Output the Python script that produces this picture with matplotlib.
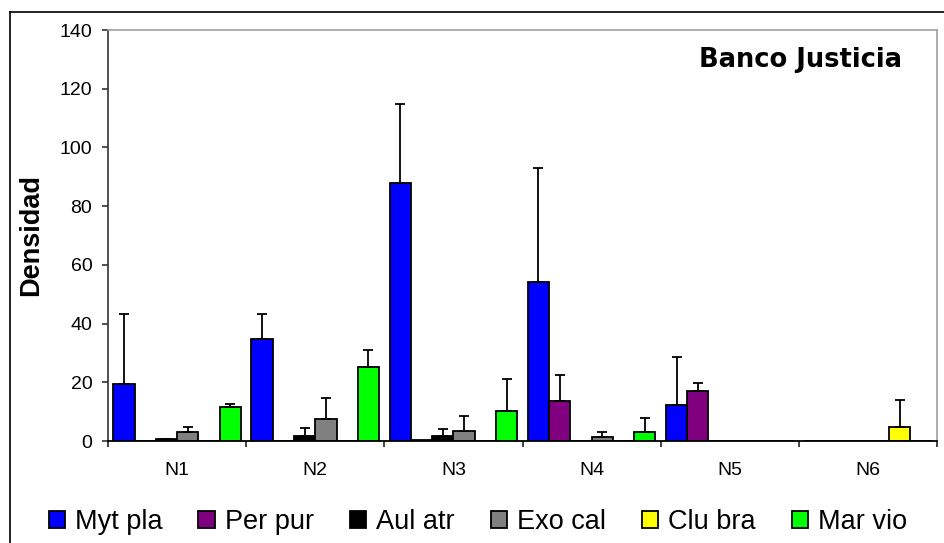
import matplotlib
matplotlib.use("Agg")
import matplotlib.pyplot as plt
import numpy as np
from matplotlib.lines import Line2D

plt.rcParams['font.family'] = ['Liberation Sans', 'DejaVu Sans']

categories = ["N1", "N2", "N3", "N4", "N5", "N6"]
series = ["Myt pla", "Per pur", "Aul atr", "Exo cal", "Clu bra", "Mar vio"]
colors = ["#0000FF", "#800080", "#000000", "#808080", "#FFFF00", "#00FF00"]

myt_pla = [19.4, 34.6, 87.8, 54.0, 12.2, 0.0]
per_pur = [0.0, 0.0, 0.3, 13.5, 17.1, 0.0]
aul_atr = [0.6, 1.8, 1.7, 0.0, 0.0, 0.0]
exo_cal = [3.2, 7.6, 3.5, 1.3, 0.0, 0.0]
clu_bra = [0.0, 0.0, 0.0, 0.0, 0.0, 4.9]
mar_vio = [11.6, 25.3, 10.3, 3.2, 0.0, 0.0]

myt_pla_err = [24.0, 8.6, 27.0, 39.0, 16.3, 0.0]
per_pur_err = [0.0, 0.0, 0.0, 9.0, 2.7, 0.0]
aul_atr_err = [0.2, 2.6, 2.3, 0.0, 0.0, 0.0]
exo_cal_err = [1.7, 7.2, 5.0, 1.9, 0.0, 0.0]
clu_bra_err = [0.0, 0.0, 0.0, 0.0, 0.0, 9.1]
mar_vio_err = [1.1, 5.8, 10.8, 4.7, 0.0, 0.0]

values = [myt_pla, per_pur, aul_atr, exo_cal, clu_bra, mar_vio]
errors = [myt_pla_err, per_pur_err, aul_atr_err, exo_cal_err, clu_bra_err, mar_vio_err]

W, H = 944, 543
fig = plt.figure(figsize=(W / 100, H / 100), dpi=100)
ax = fig.add_axes([108 / W, 1 - 441 / H, (937 - 108) / W, (441 - 30) / H])

x = np.arange(len(categories))
bw = 0.154
n = len(series)
for i, (name, vals, errs, c) in enumerate(zip(series, values, errors, colors)):
    pos = x + (i - (n - 1) / 2) * bw
    ax.bar(pos, vals, width=bw, color=c, edgecolor="black", linewidth=1.3,
           label=name, zorder=2)
    errs_arr = np.array(errs)
    mask = errs_arr > 0
    ax.errorbar(pos[mask], np.array(vals)[mask],
                yerr=[np.zeros(mask.sum()), errs_arr[mask]],
                fmt="none", ecolor="black", elinewidth=1.3, capsize=3.8,
                capthick=1.3, zorder=3)

ax.set_xlim(-0.5, 5.5)
ax.set_ylim(0, 140)
ax.set_yticks(np.arange(0, 141, 20))
ax.set_xticks(x)
ax.set_xticklabels(categories)
ax.set_xticks(np.arange(-0.5, 5.6, 1.0), minor=True)
ax.tick_params(axis="x", which="major", length=0, pad=15, labelsize=14)
ax.tick_params(axis="x", which="minor", length=4.3, width=1.2, direction="out", color="#222222")
ax.tick_params(axis="y", length=4.3, width=1.2, direction="out", labelsize=14, color="#333333", pad=7)

for s in ["top", "right"]:
    ax.spines[s].set_color("#a0a0a0")
    ax.spines[s].set_linewidth(1.2)
ax.spines["left"].set_color("#333333")
ax.spines["left"].set_linewidth(1.2)
ax.spines["bottom"].set_color("black")
ax.spines["bottom"].set_linewidth(1.3)

ax.set_ylabel("Densidad", fontsize=19.5, fontweight="bold")
ax.yaxis.set_label_coords((44 - 108) / (937 - 108), (441 - 235) / (441 - 30))

fig.text(902 / W, 1 - 60 / H, "Banco Justicia", fontsize=18.5, fontweight="bold",
         family="DejaVu Sans", ha="right", va="center")

fig.legend(loc="center", bbox_to_anchor=(478 / W, 1 - 522 / H), ncol=6, frameon=False,
           fontsize=19.5, handlelength=0.6, handleheight=0.6, handletextpad=0.37,
           columnspacing=1.33, borderaxespad=0, borderpad=0)

fig.add_artist(Line2D([10 / W, 1.0], [1 - 12 / H, 1 - 12 / H], transform=fig.transFigure,
                      color="black", linewidth=1.2))
fig.add_artist(Line2D([10 / W, 10 / W], [1 - 12 / H, 0.0], transform=fig.transFigure,
                      color="black", linewidth=1.2))

fig.savefig("out.png", dpi=100)
